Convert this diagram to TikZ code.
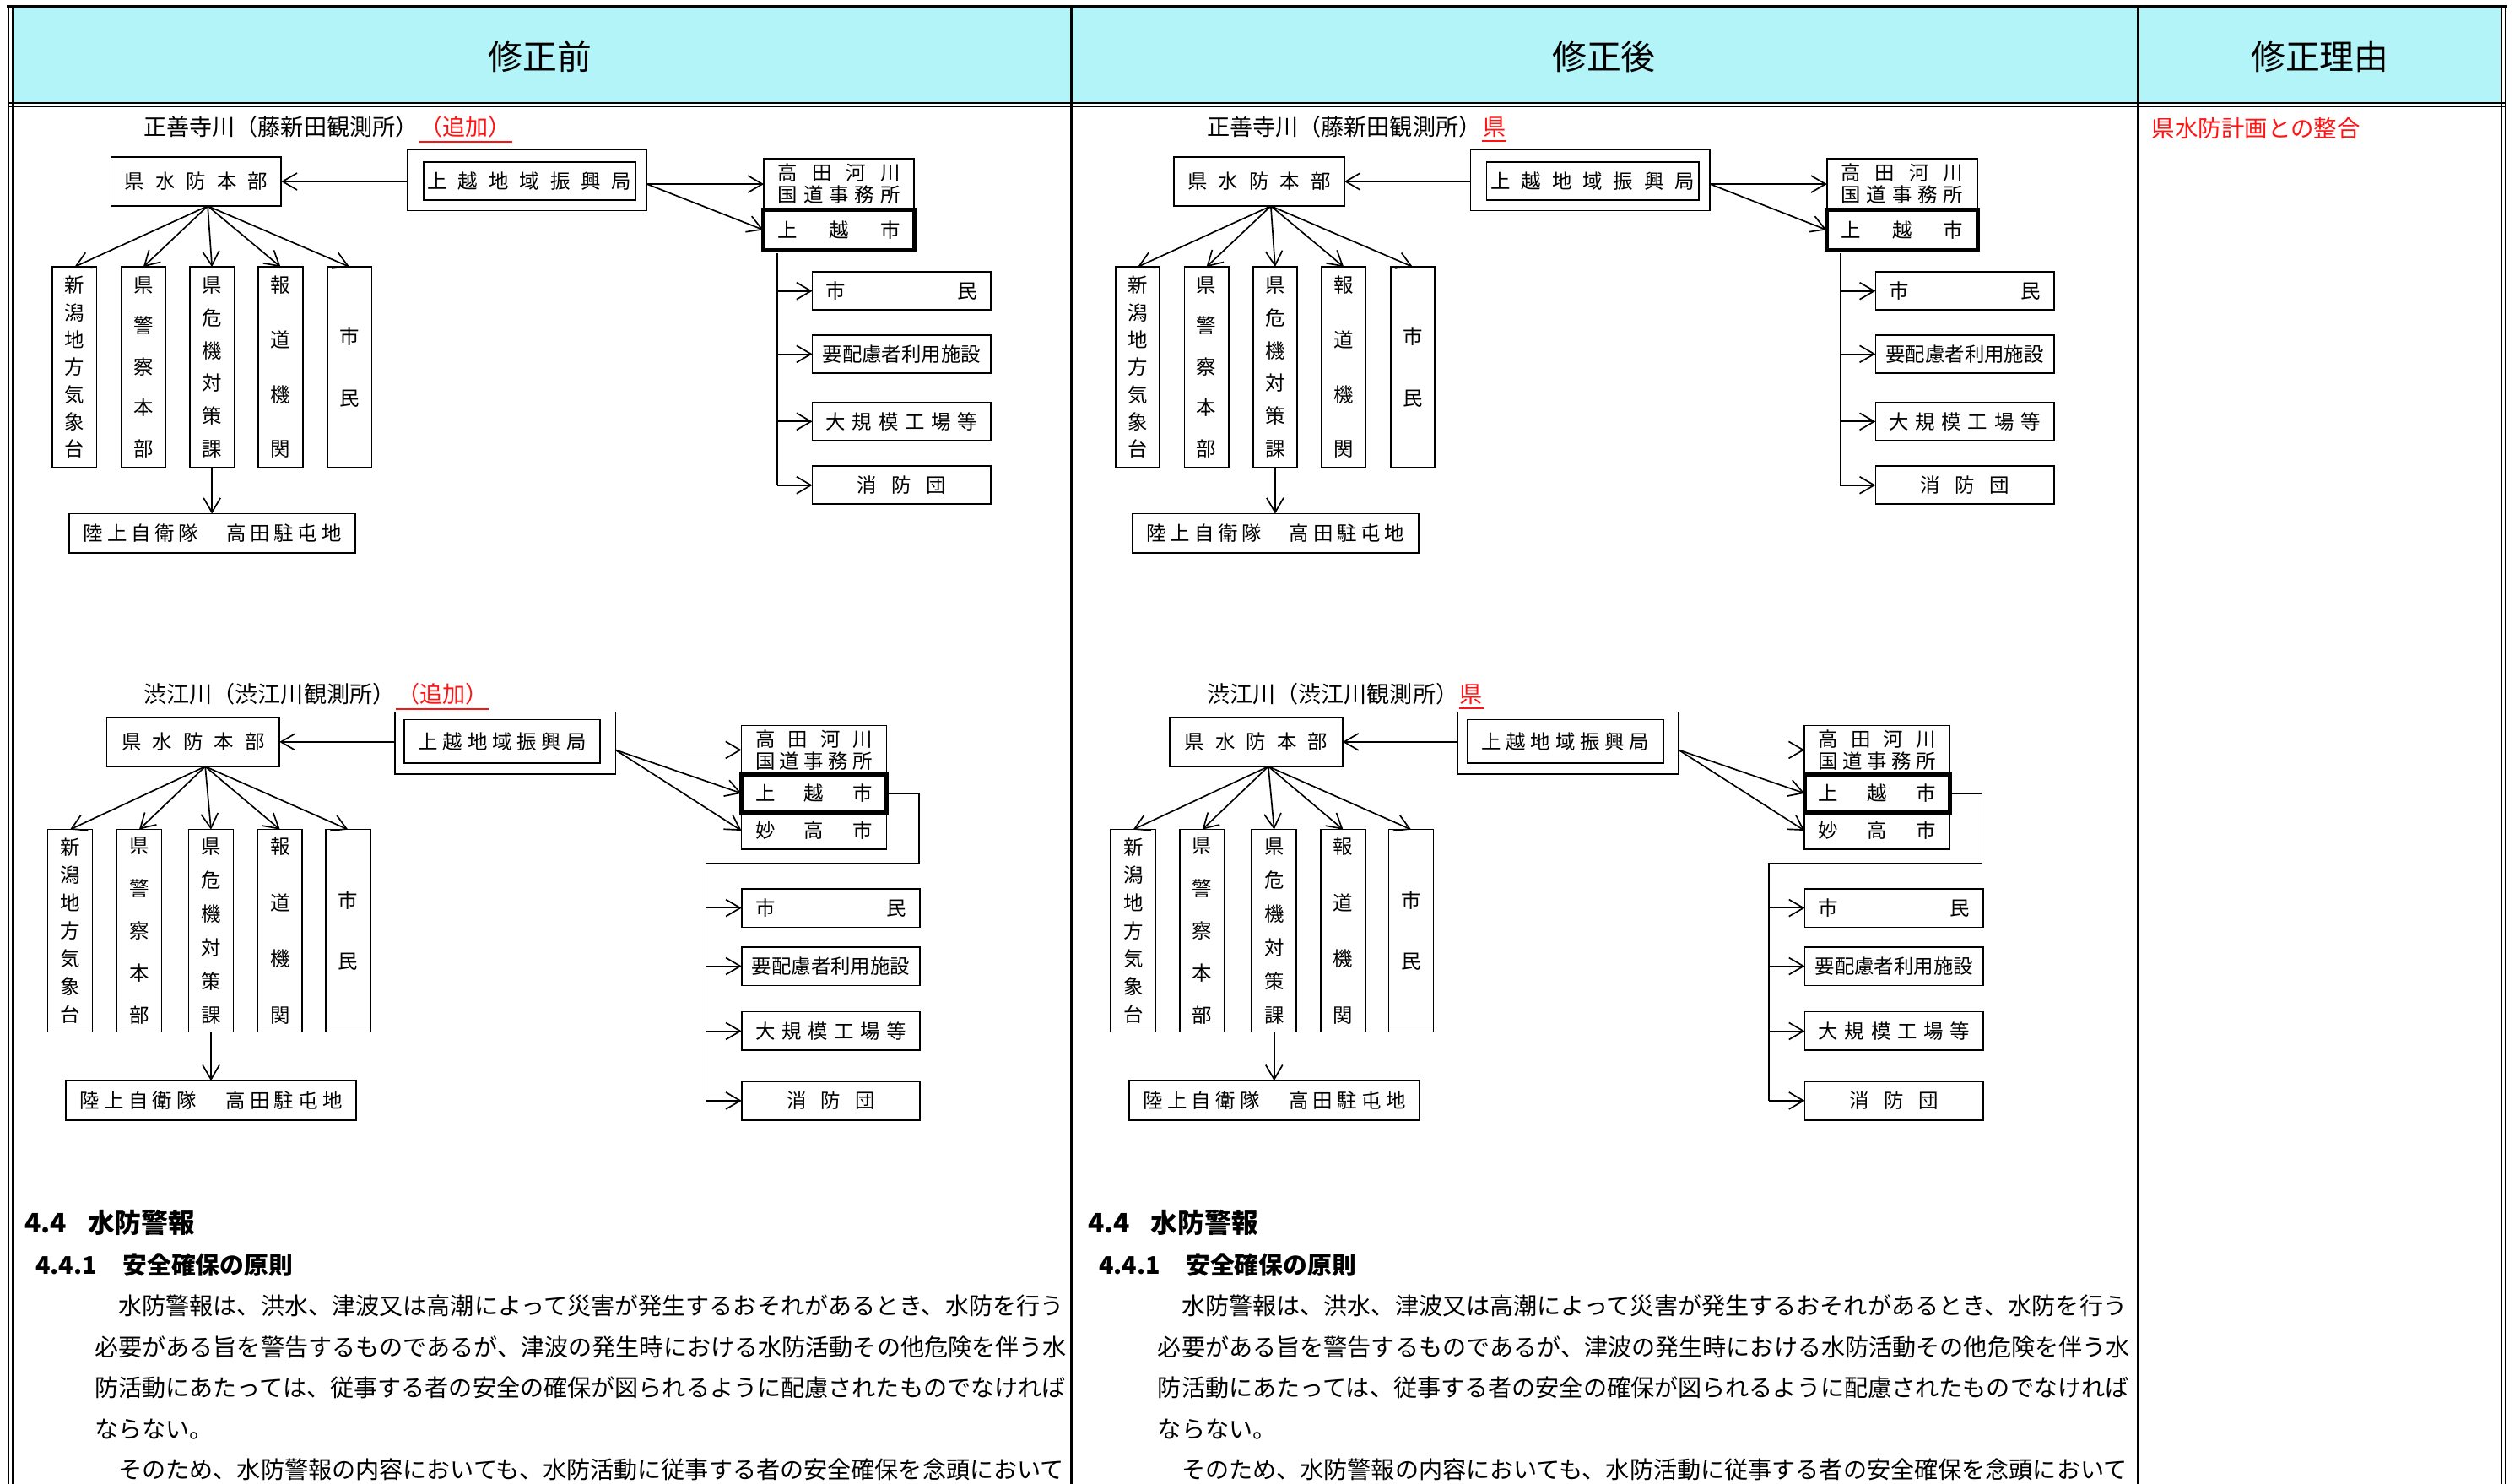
\documentclass[tikz,border=0pt]{standalone}
\usepackage{fontspec}
\setmainfont{Noto Sans CJK JP}
\usetikzlibrary{arrows.meta,positioning}

\definecolor{headcyan}{RGB}{178,244,248}
\definecolor{fixred}{RGB}{255,20,20}
\tikzstyle{arrow} = [draw, -{Straight Barb[length=1.8mm,width=2.1mm]}, line width=0.5pt]
\tikzstyle{box} = [draw, line width=0.5pt, inner sep=0pt, outer sep=0pt, font=\fontsize{7}{8.5}\selectfont]
\tikzstyle{thickbox} = [box, line width=1.4pt]
\tikzstyle{ttl} = [anchor=west, inner xsep=0pt, inner ysep=1pt, font=\fontsize{8.1}{9}\selectfont]
\tikzset{
  wh/.style 2 args={minimum width=#1*0.2mm, minimum height=#2*0.2mm},
  vbox/.style={box, align=center, font=\fontsize{7}{#1}\selectfont},
}
\newcommand{\spread}[2]{\makebox[#1][s]{#2}}
\newcommand{\jsdf}{陸\hfill 上\hfill 自\hfill 衛\hfill 隊\hfill\hspace{1em}\hfill 高\hfill 田\hfill 駐\hfill 屯\hfill 地}

\begin{document}
\begin{tikzpicture}[x=0.2mm, y=-0.2mm, line width=0.5pt]
\useasboundingbox (0,0) rectangle (1568,923);

% table frame
\fill[headcyan] (8,4) rectangle (1557,64);
\draw[line width=0.9pt] (4,3.7) -- (1560,3.7);
\draw[line width=0.6pt] (5,64.1) -- (1559,64.1);
\draw[line width=0.6pt] (5,66.4) -- (1559,66.4);
\draw[line width=0.6pt] (5.5,3.7) -- (5.5,923);
\draw[line width=0.6pt] (8,3.7) -- (8,923);
\draw[line width=0.6pt] (1556.6,3.7) -- (1556.6,923);
\draw[line width=0.6pt] (1558.9,3.7) -- (1558.9,923);
\draw[line width=0.8pt] (666.5,3.7) -- (666.5,923);
\draw[line width=0.8pt] (1330.3,3.7) -- (1330.3,923);

\node[font=\fontsize{12.2}{14}\selectfont] at (336,35) (headL) {修正前};
\node[font=\fontsize{12.2}{14}\selectfont] at (998,35) (headR) {修正後};
\node[font=\fontsize{12.2}{14}\selectfont] at (1443.5,35) (headW) {修正理由};
\node[anchor=west, inner xsep=0pt, text=fixred, font=\fontsize{8.2}{10}\selectfont] at (1338.5,79.7) (reason) {県水防計画との整合};

\foreach \c/\dx/\sfx in {L/0/（追加）, R/661.5/県}{
\begin{scope}[xshift=\dx*0.2mm]
% upper chart
\node[ttl] at (89,79) (upttl\c) {正善寺川（藤新田観測所）};
\node[ttl, text=fixred] at (upttl\c.east) (upsfx\c) {\sfx};
\draw[fixred, line width=0.6pt] (upsfx\c.south west) -- (upsfx\c.south east);

\node[box, wh={106}{30.5}] at (122,112.9) (uphq\c) {\spread{17.8mm}{県 水 防 本 部}};
\node[box, wh={149}{38}] at (328,112) (upbur\c) {};
\node[box, wh={132}{23.7}] at (329.5,112.5) (upburin\c) {\spread{25.4mm}{上 越 地 域 振 興 局}};
\node[box, wh={93.5}{31.8}, align=center, font=\fontsize{7}{7.8}\selectfont] at (522,114.5) (upkawa\c) {\spread{15.2mm}{高 田 河 川}\\\spread{15.2mm}{国 道 事 務 所}};
\node[thickbox, wh={94}{25}] at (522,143) (upjoetsu\c) {\spread{15.2mm}{上 越 市}};
\coordinate (upout\c) at (upbur\c.east |- upkawa\c.west);
\draw[arrow] (uphq\c.east -| upbur\c.west) -- (uphq\c.east);
\draw[arrow] (upout\c) -- (upkawa\c.west);
\draw[arrow] (upout\c) -- (upjoetsu\c.west);

\coordinate (uptrunk\c) at (483.5,157.6);
\foreach \n/\y/\t in {shimin/181/{\spread{18.8mm}{市 民}}, yohai/220.2/{要配慮者利用施設}, kojo/262.2/{\spread{18.8mm}{大 規 模 工 場 等}}, shobo/301.8/{\spread{11mm}{消 防 団}}}{
  \node[box, wh={111}{23.6}] at (561,\y) (up\n\c) {\t};
  \draw[arrow] (uptrunk\c |- up\n\c.west) -- (up\n\c.west);
}
\draw (uptrunk\c) -- (uptrunk\c |- upshobo\c.west);

\coordinate (upfan\c) at ([xshift=1.45mm]uphq\c.south);
\foreach \v/\x/\s/\t in {1/46.4/9.67/{新\\潟\\地\\方\\気\\象\\台}, 2/89.2/14.5/{県\\警\\察\\本\\部}, 3/131.9/11.6/{県\\危\\機\\対\\策\\課}, 4/174.6/19.35/{報\\道\\機\\関}, 5/217.5/21.6/{市\\民}}{
  \node[vbox=\s, wh={27.5}{124.8}] at (\x,228.4) (upv\v\c) {\t};
  \draw[arrow] (upfan\c) -- (upv\v\c.north);
}
\node[box, wh={178}{24.2}] at (132.2,331.7) (upjsdf\c) {\spread{32.1mm}{\jsdf}};
\draw[arrow] (upv3\c.south) -- (upv3\c.south |- upjsdf\c.north);

% lower chart
\node[ttl] at (89,432) (lottl\c) {渋江川（渋江川観測所）};
\node[ttl, text=fixred] at (lottl\c.east) (losfx\c) {\sfx};
\draw[fixred, line width=0.6pt] (losfx\c.south west) -- (losfx\c.south east);

\node[box, wh={107.5}{30.6}] at (120.2,461.5) (lohq\c) {\spread{17.8mm}{県 水 防 本 部}};
\node[box, wh={137.4}{38.6}] at (314.3,462.2) (lobur\c) {};
\node[box, wh={122}{27}] at (312.5,461.2) (loburin\c) {\spread{20.9mm}{上 越 地 域 振 興 局}};
\node[box, wh={90.3}{30.5}, align=center, font=\fontsize{7}{7.8}\selectfont] at (506.5,466.5) (lokawa\c) {\spread{14.6mm}{高 田 河 川}\\\spread{14.6mm}{国 道 事 務 所}};
\node[thickbox, wh={90.3}{23.5}] at (506.5,493.5) (lojoetsu\c) {\spread{14.6mm}{上 越 市}};
\node[box, wh={90.3}{23}] at (506.5,516.7) (lomyoko\c) {\spread{14.6mm}{妙 高 市}};
\coordinate (loout\c) at (lobur\c.east |- lokawa\c.west);
\draw[arrow] (lohq\c.east -| lobur\c.west) -- (lohq\c.east);
\draw[arrow] (loout\c) -- (lokawa\c.west);
\draw[arrow] (loout\c) -- (lojoetsu\c.west);
\draw[arrow] (loout\c) -- (lomyoko\c.west);

\coordinate (lobend\c) at (571.8,537);
\coordinate (lotrunk\c) at (439.3,537);
\foreach \n/\y/\t in {shimin/564.8/{\spread{18.8mm}{市 民}}, yohai/601/{要配慮者利用施設}, kojo/641.4/{\spread{18.8mm}{大 規 模 工 場 等}}, shobo/684.7/{\spread{11mm}{消 防 団}}}{
  \node[box, wh={111}{24}] at (517,\y) (lo\n\c) {\t};
  \draw[arrow] (lotrunk\c |- lo\n\c.west) -- (lo\n\c.west);
}
\draw (lojoetsu\c.east) -| (lobend\c) -- (lotrunk\c) -- (lotrunk\c |- loshobo\c.west);

\coordinate (lofan\c) at ([xshift=1.5mm]lohq\c.south);
\foreach \v/\x/\s/\t in {1/43.6/9.86/{新\\潟\\地\\方\\気\\象\\台}, 2/86.6/14.96/{県\\警\\察\\本\\部}, 3/131.3/11.95/{県\\危\\機\\対\\策\\課}, 4/174.2/19.9/{報\\道\\機\\関}, 5/216.5/21.4/{市\\民}}{
  \node[vbox=\s, wh={27.8}{126}] at (\x,579) (lov\v\c) {\t};
  \draw[arrow] (lofan\c) -- (lov\v\c.north);
}
\node[box, wh={180.6}{24.4}] at (131.4,684.5) (lojsdf\c) {\spread{32.7mm}{\jsdf}};
\draw[arrow] (lov3\c.south) -- (lov3\c.south |- lojsdf\c.north);

% text below the charts
\node[anchor=west, inner sep=0pt, font=\fontsize{9.5}{11}\selectfont\bfseries] at (15,760.7) (sec\c) {4.4\hspace{2.6mm}水防警報};
\node[anchor=west, inner sep=0pt, font=\fontsize{8.6}{10}\selectfont\bfseries] at (21.8,786.8) (subsec\c) {4.4.1\hspace{3.2mm}安全確保の原則};
\node[anchor=north west, inner sep=0pt, align=left, font=\fontsize{8.4}{14.5}\selectfont] at (58.5,805) (body\c) {\hspace*{1em}水防警報は、洪水、津波又は高潮によって災害が発生するおそれがあるとき、水防を行う\\必要がある旨を警告するものであるが、津波の発生時における水防活動その他危険を伴う水\\防活動にあたっては、従事する者の安全の確保が図られるように配慮されたものでなければ\\ならない。\\\hspace*{1em}そのため、水防警報の内容においても、水防活動に従事する者の安全確保を念頭において};
\end{scope}
}
\end{tikzpicture}
\end{document}
